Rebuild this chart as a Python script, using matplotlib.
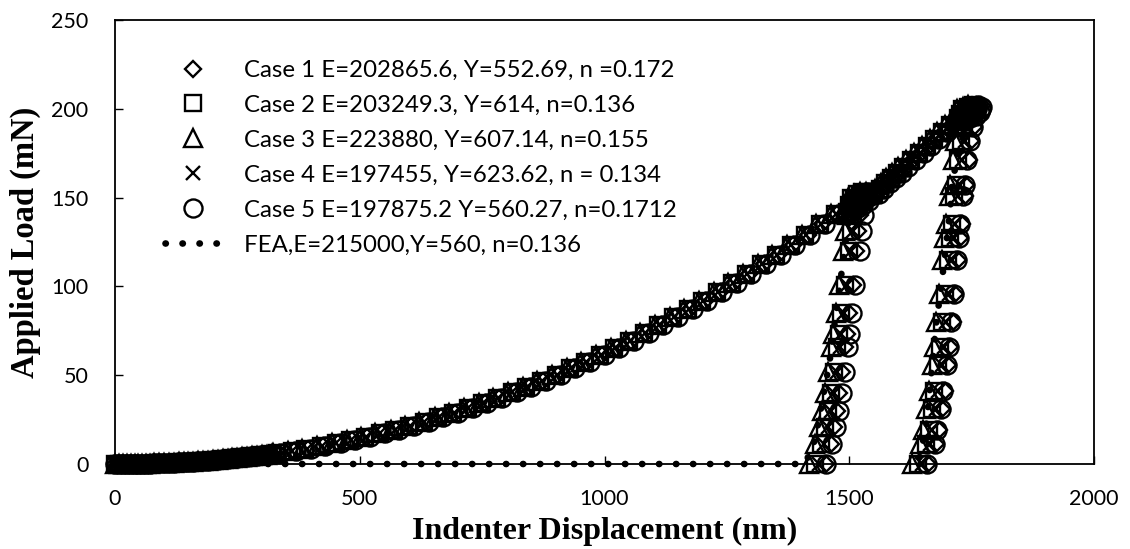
import matplotlib
matplotlib.use("Agg")
import matplotlib.pyplot as plt

# ---- data (displacement nm, load mN) ----
# start of the loading branch, common to all five cases (markers overlap there)
early_disp = [0, 8, 16, 24, 32, 40, 48, 56, 64, 72, 80, 90, 100, 110, 120, 130, 140, 150, 160,
              170, 180, 190, 200, 210, 220, 230, 240, 250, 260, 270, 280, 290, 300, 310, 320]
early_mn = [0, 0, 0.01, 0.03, 0.05, 0.08, 0.11, 0.15, 0.2, 0.25, 0.32, 0.4, 0.5, 0.61, 0.73,
            0.87, 1.0, 1.17, 1.34, 1.5, 1.7, 1.9, 2.1, 2.3, 2.6, 2.8, 3.1, 3.4, 3.7, 4.0, 4.3,
            4.6, 5.0, 5.3, 5.7]

# load levels shared by the cases on each branch
mid_mn = [6.1, 7.3, 8.7, 10.2, 11.7, 13.4, 15.3, 17.2, 19.3, 21.5, 23.8, 26.2, 28.8, 31.5, 34.3,
          37.2, 40.3, 43.5, 46.8, 50.3, 53.9, 57.6, 61.4, 65.4, 69.5, 73.7, 78.1, 82.6, 87.2,
          92.0, 96.9, 101.9, 107.1, 112.4, 117.8, 123.4, 129.1, 134.9, 140.9]
hold1_mn = [142, 146, 150, 144, 148, 152, 146, 150, 153, 148, 151, 153]
unload1_mn = [140, 131, 120, 101, 85, 73, 66, 52, 40, 30, 21, 11, 0]
load2_mn = [152, 155, 158, 161, 164, 167, 171, 175, 179, 183, 187, 191, 195]
hold2_mn = [193, 197, 200, 195, 199, 201, 196, 200, 202, 198, 200, 201]
unload2_mn = [190, 182, 171, 157, 151, 135, 127, 115, 96, 80, 66, 56, 41, 31, 19, 11, 0]

# Case 1 (diamond)
case1_mid = [335, 365, 395, 425, 455, 485, 515, 545, 575, 605, 635, 665, 695, 725, 755, 785,
             815, 845, 875, 905, 935, 965, 995, 1025, 1055, 1085, 1115, 1145, 1175, 1205, 1235,
             1265, 1295, 1325, 1355, 1385, 1415, 1445, 1475]
case1_hold1 = [1500, 1504, 1508, 1512, 1516, 1520, 1524, 1528, 1532, 1536, 1540, 1544]
case1_unload1 = [1521, 1518, 1514, 1507, 1500, 1495, 1492, 1486, 1480, 1475, 1469, 1462, 1452]
case1_load2 = [1555, 1567, 1579, 1591, 1603, 1615, 1631, 1647, 1663, 1679, 1695, 1711, 1727]
case1_hold2 = [1730, 1733, 1737, 1741, 1745, 1749, 1752, 1755, 1758, 1761, 1764, 1767]
case1_unload2 = [1755, 1749, 1744, 1739, 1736, 1730, 1727, 1723, 1717, 1711, 1706, 1702, 1695,
                 1690, 1683, 1678, 1661]

# Case 2 (square)
case2_mid = [330, 361, 389, 420, 451, 480, 510, 541, 570, 600, 631, 660, 690, 721, 750, 780,
             811, 840, 870, 901, 930, 960, 991, 1020, 1050, 1081, 1110, 1140, 1171, 1200, 1230,
             1261, 1290, 1320, 1351, 1380, 1410, 1441, 1470]
case2_hold1 = [1495, 1499, 1503, 1507, 1511, 1515, 1519, 1523, 1527, 1531, 1535, 1539]
case2_unload1 = [1508, 1504, 1499, 1491, 1484, 1479, 1475, 1468, 1462, 1456, 1450, 1442, 1430]
case2_load2 = [1550, 1562, 1574, 1586, 1598, 1610, 1626, 1642, 1658, 1674, 1690, 1706, 1722]
case2_hold2 = [1724, 1727, 1731, 1735, 1739, 1743, 1746, 1749, 1752, 1755, 1758, 1761]
case2_unload2 = [1734, 1728, 1723, 1718, 1715, 1709, 1706, 1702, 1696, 1690, 1685, 1681, 1674,
                 1669, 1662, 1657, 1640]

# Case 3 (triangle)
case3_mid = [322, 353, 383, 412, 443, 473, 503, 532, 563, 593, 622, 653, 683, 712, 743, 773,
             802, 833, 863, 892, 923, 953, 982, 1013, 1043, 1072, 1103, 1133, 1162, 1193, 1223,
             1252, 1283, 1313, 1342, 1373, 1403, 1432, 1463]
case3_hold1 = [1490, 1494, 1498, 1502, 1506, 1510, 1514, 1518, 1522, 1526, 1530, 1534]
case3_unload1 = [1496, 1492, 1487, 1479, 1472, 1467, 1463, 1456, 1450, 1444, 1438, 1430, 1418]
case3_load2 = [1540, 1552, 1564, 1576, 1588, 1600, 1616, 1632, 1648, 1664, 1680, 1696, 1712]
case3_hold2 = [1714, 1717, 1721, 1725, 1729, 1733, 1736, 1739, 1742, 1745, 1748, 1751]
case3_unload2 = [1722, 1716, 1711, 1706, 1703, 1697, 1694, 1690, 1684, 1678, 1673, 1669, 1662,
                 1657, 1650, 1645, 1628]

# Case 4 (cross)
case4_mid = [332, 362, 392, 422, 452, 482, 512, 542, 572, 602, 632, 662, 692, 722, 752, 782,
             812, 842, 872, 902, 932, 962, 992, 1022, 1052, 1082, 1112, 1142, 1172, 1202, 1232,
             1262, 1292, 1322, 1352, 1382, 1412, 1442, 1472]
case4_hold1 = [1497, 1501, 1505, 1509, 1513, 1517, 1521, 1525, 1529, 1533, 1537, 1541]
case4_unload1 = [1512, 1508, 1504, 1496, 1489, 1484, 1481, 1474, 1468, 1462, 1456, 1448, 1438]
case4_load2 = [1552, 1564, 1576, 1588, 1600, 1612, 1628, 1644, 1660, 1676, 1692, 1708, 1724]
case4_hold2 = [1726, 1729, 1733, 1737, 1741, 1745, 1748, 1751, 1754, 1757, 1760, 1763]
case4_unload2 = [1742, 1736, 1731, 1726, 1723, 1717, 1714, 1710, 1704, 1698, 1693, 1689, 1682,
                 1677, 1670, 1665, 1648]

# Case 5 (circle)
case5_mid = [340, 370, 400, 430, 461, 490, 520, 551, 580, 610, 641, 670, 700, 731, 760, 790,
             821, 850, 880, 911, 940, 970, 1001, 1030, 1060, 1091, 1120, 1150, 1181, 1210, 1240,
             1271, 1300, 1330, 1361, 1390, 1420, 1451, 1480]
case5_hold1 = [1505, 1509, 1513, 1517, 1521, 1525, 1529, 1533, 1537, 1541, 1545, 1549]
case5_unload1 = [1530, 1526, 1521, 1512, 1506, 1501, 1498, 1492, 1486, 1480, 1472, 1464, 1452]
case5_load2 = [1560, 1572, 1584, 1596, 1608, 1620, 1636, 1652, 1668, 1684, 1700, 1716, 1732]
case5_hold2 = [1736, 1739, 1743, 1747, 1751, 1755, 1758, 1761, 1764, 1767, 1770, 1772]
case5_unload2 = [1752, 1746, 1741, 1736, 1733, 1727, 1724, 1720, 1714, 1708, 1703, 1699, 1692,
                 1687, 1680, 1675, 1658]

# FEA (dotted line)
fea_disp = [0, 1410, 1429, 1439, 1445, 1459, 1473, 1483, 1495, 1505, 1560, 1620, 1680, 1720,
            1745, 1710, 1708, 1704, 1688, 1678, 1657, 1643, 1640]
fea_mn = [0, 0, 13, 26, 36, 56, 85, 105, 130, 150, 157, 170, 185, 196, 200, 159, 149, 138, 100,
          80, 21, 3, 0]

labels = ["Case 1 E=202865.6, Y=552.69, n =0.172",
          "Case 2 E=203249.3, Y=614, n=0.136",
          "Case 3 E=223880, Y=607.14, n=0.155",
          "Case 4 E=197455, Y=623.62, n = 0.134",
          "Case 5 E=197875.2 Y=560.27, n=0.1712",
          "FEA,E=215000,Y=560, n=0.136"]

cases = [
    (case1_mid, case1_hold1, case1_unload1, case1_load2, case1_hold2, case1_unload2, "D", 8.5),
    (case2_mid, case2_hold1, case2_unload1, case2_load2, case2_hold2, case2_unload2, "s", 11.5),
    (case3_mid, case3_hold1, case3_unload1, case3_load2, case3_hold2, case3_unload2, "^", 13.0),
    (case4_mid, case4_hold1, case4_unload1, case4_load2, case4_hold2, case4_unload2, "x", 10.5),
    (case5_mid, case5_hold1, case5_unload1, case5_load2, case5_hold2, case5_unload2, "o", 13.0),
]

plt.rcParams["font.family"] = ["Lato", "DejaVu Sans"]

fig = plt.figure(figsize=(11.3, 5.49), dpi=100)
ax = fig.add_axes([115 / 1130, 1 - 464 / 549, (1094 - 115) / 1130, (464 - 20) / 549])

for (mid, h1, u1, l2, h2, u2, mk, ms), lab in zip(cases, labels):
    x = early_disp + mid + h1 + u1 + l2 + h2 + u2
    y = early_mn + mid_mn + hold1_mn + unload1_mn + load2_mn + hold2_mn + unload2_mn
    ax.plot(x, y, linestyle="none", marker=mk, ms=ms, mfc="none", mec="black",
            mew=1.7, clip_on=False, label=lab)

ax.plot(fea_disp, fea_mn, color="black", lw=4.8, dashes=(0.05, 2.5), dash_capstyle="round",
        clip_on=False, zorder=5, label=labels[5])

ax.set_xlim(0, 2000)
ax.set_ylim(0, 250)
ax.set_xticks([0, 500, 1000, 1500, 2000])
ax.set_yticks([0, 50, 100, 150, 200, 250])
ax.tick_params(direction="in", length=6, width=1, labelsize=15.5, colors="black")
ax.tick_params(axis="y", pad=19)
ax.tick_params(axis="x", pad=18)
for s in ax.spines.values():
    s.set_linewidth(1.3)

ax.set_xlabel("Indenter Displacement (nm)", fontfamily="Liberation Serif", fontweight="bold",
              fontsize=23, labelpad=6)
ax.set_ylabel("Applied Load (mN)", fontfamily="Liberation Serif", fontweight="bold",
              fontsize=23.5)
ax.yaxis.set_label_coords(-0.076, 0.5)

ax.legend(loc="upper left", bbox_to_anchor=(0.051, 0.91), frameon=False, fontsize=17.3,
          numpoints=1, handlelength=2.33, handletextpad=0.97, labelspacing=0.58,
          borderpad=0, borderaxespad=0)

fig.savefig("out.png", dpi=100)
